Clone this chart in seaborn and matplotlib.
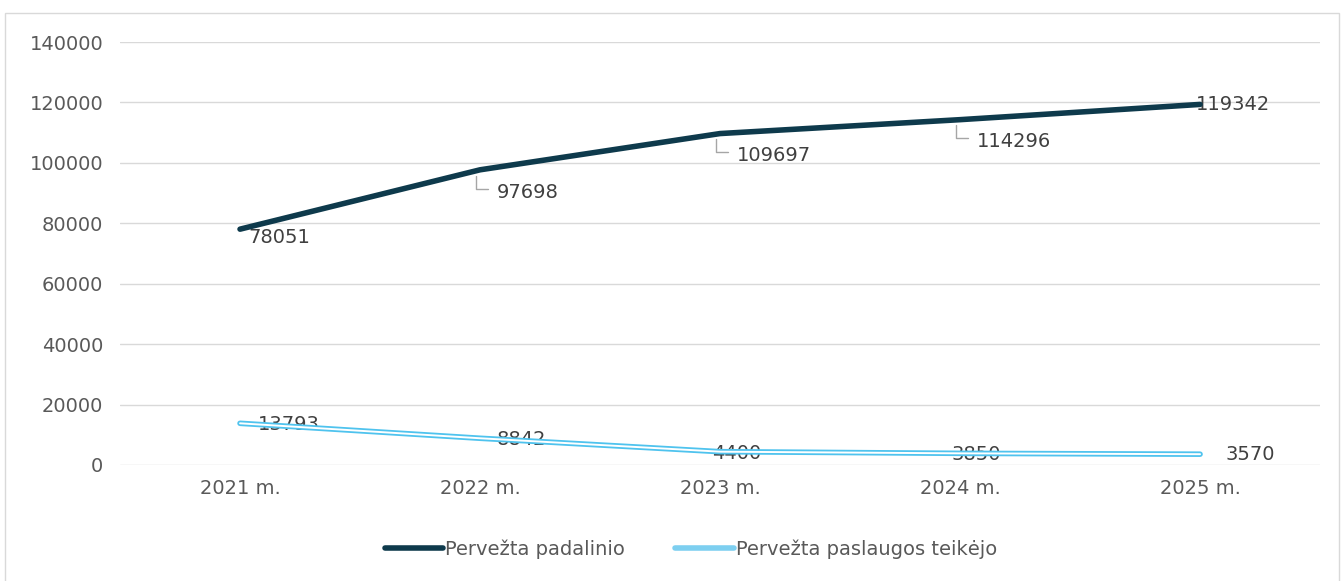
import matplotlib
matplotlib.use("Agg")
import matplotlib.pyplot as plt
from matplotlib.lines import Line2D
import seaborn as sns
import pandas as pd

years = ["2021 m.", "2022 m.", "2023 m.", "2024 m.", "2025 m."]
padalinio = [78051, 97698, 109697, 114296, 119342]
teikejo = [13793, 8842, 4400, 3850, 3570]
series_names = ["Pervežta padalinio", "Pervežta paslaugos teikėjo"]

sns.set_theme(style="white")
plt.rcParams['font.family'] = ['DejaVu Sans']

df = pd.DataFrame({"year": years * 2,
                   "value": padalinio + teikejo,
                   "series": [series_names[0]] * 5 + [series_names[1]] * 5})
df["x"] = list(range(5)) * 2

fig = plt.figure(figsize=(13.44, 5.81), dpi=100)
ax = fig.add_axes([0.0893, 0.1997, 0.8929, 0.728])

dark = "#0e3a4c"
light = "#4fc3ee"

sns.lineplot(data=df[df.series == series_names[0]], x="x", y="value", ax=ax,
             color=dark, lw=4, zorder=4, legend=False)
# double-line look of the lower series
sns.lineplot(data=df[df.series == series_names[1]], x="x", y="value", ax=ax,
             color=light, lw=4, zorder=4, legend=False)
sns.lineplot(data=df[df.series == series_names[1]], x="x", y="value", ax=ax,
             color="white", lw=1.4, zorder=5, legend=False)

ax.set_xlim(-0.5, 4.5)
ax.set_ylim(0, 140000)
ax.set_yticks(range(0, 140001, 20000))
ax.set_xticks(range(5))
ax.set_xticklabels(years)
ax.set_xlabel("")
ax.set_ylabel("")
ax.grid(axis="y", color="#d9d9d9", lw=1)
ax.grid(axis="x", visible=False)
for s in ax.spines.values():
    s.set_visible(False)
ax.tick_params(axis="both", colors="#595959", labelsize=14, length=0, pad=12)
ax.tick_params(axis="x", pad=10)

lab_col = "#404040"
fs = 14
# upper labels
ax.annotate(f"{padalinio[0]}", (0, padalinio[0]), xytext=(6, -6), textcoords="offset points",
            va="center", ha="left", fontsize=fs, color=lab_col, zorder=3)
for i in [1, 2, 3]:
    ax.annotate(f"{padalinio[i]}", (i, padalinio[i]), xytext=(12, -16), textcoords="offset points",
                va="center", ha="left", fontsize=fs, color=lab_col, zorder=3)
    ax.annotate("", (i - 0.015, padalinio[i] - 1000), xytext=(i + 0.045, padalinio[i] - 6200),
                arrowprops=dict(arrowstyle="-", color="#a6a6a6", lw=1,
                                connectionstyle="angle,angleA=0,angleB=90,rad=0"))
ax.annotate(f"{padalinio[4]}", (4, padalinio[4]), xytext=(-3, 0), textcoords="offset points",
            va="center", ha="left", fontsize=fs, color=lab_col, zorder=3)

# lower labels
ax.annotate(f"{teikejo[0]}", (0, teikejo[0]), xytext=(13, -1), textcoords="offset points",
            va="center", ha="left", fontsize=fs, color=lab_col, zorder=3)
for i in [1, 2, 3]:
    ax.annotate(f"{teikejo[i]}", (i, teikejo[i]), xytext=(30 if i == 1 else 12, -1),
                textcoords="offset points", va="center", ha="center",
                fontsize=fs, color=lab_col, zorder=3)
ax.annotate(f"{teikejo[4]}", (4, teikejo[4]), xytext=(18, 0), textcoords="offset points",
            va="center", ha="left", fontsize=fs, color=lab_col, zorder=3)

handles = [Line2D([], [], color=dark, lw=4), Line2D([], [], color="#7dcff0", lw=4)]
fig.legend(handles, series_names, loc="center", bbox_to_anchor=(0.514, 0.055), ncol=2,
           frameon=False, fontsize=14, labelcolor="#595959", handlelength=3.0,
           handletextpad=0.1, columnspacing=2.6)

# outer frame
fig.patches.append(plt.Rectangle((0.004, -0.01), 0.992, 0.988, transform=fig.transFigure,
                                 fill=False, edgecolor="#d9d9d9", lw=1))

fig.savefig("out.png", dpi=100)
